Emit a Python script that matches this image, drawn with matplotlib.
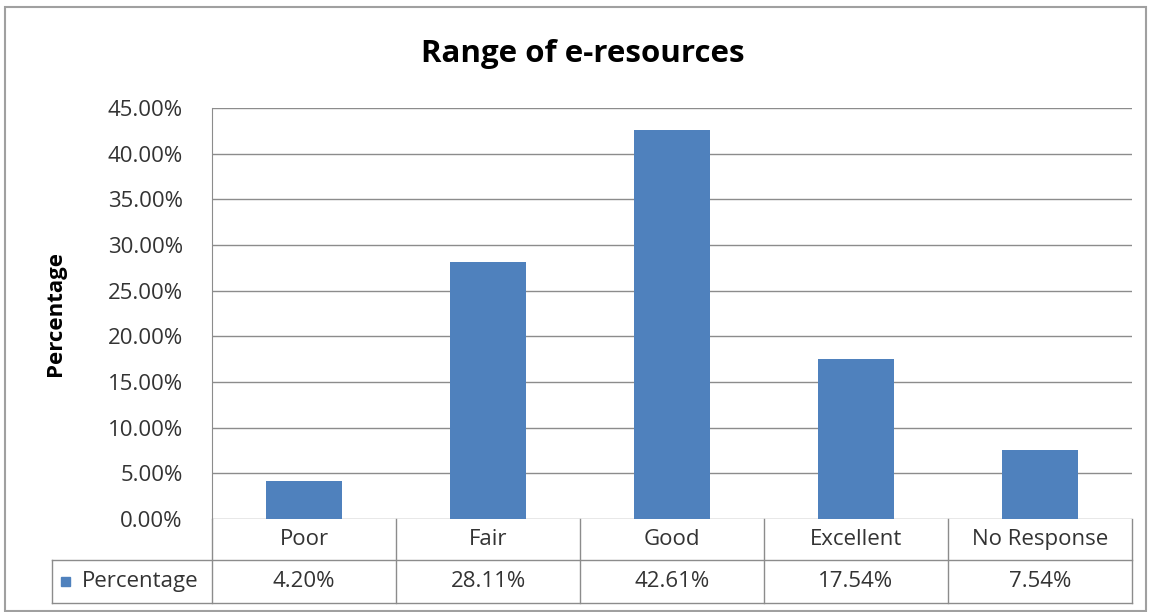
import matplotlib

matplotlib.use("Agg")
import matplotlib.pyplot as plt  # noqa: E402
from matplotlib.patches import Rectangle  # noqa: E402
from matplotlib.lines import Line2D  # noqa: E402
import numpy as np  # noqa: E402

categories = ["Poor", "Fair", "Good", "Excellent", "No Response"]
values = [4.20, 28.11, 42.61, 17.54, 7.54]
series_name = "Percentage"
title = "Range of e-resources"

BAR = "#4f81bd"
GRID = "#8c8c8c"
TXT = "#333333"
FONT = "Open Sans"
FS = 16

W, H = 1150, 612
fig = plt.figure(figsize=(W / 100, H / 100), dpi=100)


# pixel helpers (origin top-left, like the reference image)
def fx(px):
    return px / W


def fy(py):
    return 1 - py / H


x0, x1, y_top, y_bot = 212, 1132, 108, 519
ax = fig.add_axes([fx(x0), fy(y_bot), fx(x1) - fx(x0), fy(y_top) - fy(y_bot)])
x = np.arange(len(categories))
ax.bar(x, values, width=0.41, color=BAR, zorder=3)
ax.set_xlim(-0.5, len(categories) - 0.5)
ax.set_ylim(0, 45)
ticks = np.arange(0, 46, 5)
ax.set_yticks(ticks)
ax.set_yticklabels([f"{v:.2f}%" for v in ticks], fontsize=FS, family=FONT, color=TXT)
ax.set_xticks([])
ax.tick_params(axis="y", length=0, pad=21)
ax.grid(axis="y", color=GRID, linewidth=1, zorder=0)
for s in ("top", "right", "bottom"):
    ax.spines[s].set_visible(False)
ax.spines["left"].set_color(GRID)

fig.text(fx(56), fy(314), "Percentage", rotation=90, ha="center", va="center",
         fontsize=16, fontweight="bold", family=FONT)
fig.text(fx(583), fy(54), title, ha="center", va="center", fontsize=22.5, fontweight="bold", family=FONT)

# data table under the plot
row1, row2, row3 = 519, 560, 603
cw = (x1 - x0) / len(categories)
tl = dict(color=GRID, linewidth=1, transform=fig.transFigure)
fig.add_artist(Line2D([fx(x0), fx(x0)], [fy(row1), fy(row3)], **tl))
fig.add_artist(Line2D([fx(52), fx(x1)], [fy(row2), fy(row2)], **tl))
fig.add_artist(Line2D([fx(52), fx(x1)], [fy(row3), fy(row3)], **tl))
fig.add_artist(Line2D([fx(52), fx(52)], [fy(row2), fy(row3)], **tl))
for i, (cat, v) in enumerate(zip(categories, values)):
    xr = x0 + cw * (i + 1)
    fig.add_artist(Line2D([fx(xr), fx(xr)], [fy(row1), fy(row3)], **tl))
    xc = x0 + cw * (i + 0.5)
    fig.text(fx(xc), fy((row1 + row2) / 2), cat, ha="center", va="center", fontsize=FS, family=FONT, color=TXT)
    fig.text(fx(xc), fy((row2 + row3) / 2), f"{v:.2f}%", ha="center", va="center", fontsize=FS, family=FONT, color=TXT)
fig.add_artist(Rectangle((fx(61), fy(586)), fx(9), fy(577) - fy(586), color=BAR, transform=fig.transFigure))
fig.text(fx(82), fy((row2 + row3) / 2), series_name, ha="left", va="center", fontsize=FS, family=FONT, color=TXT)

# outer frame
fig.add_artist(Rectangle((fx(5), fy(611)), fx(1141), fy(7) - fy(611), fill=False,
                         edgecolor="#a0a0a0", linewidth=1.5, transform=fig.transFigure))

fig.savefig("out.png", dpi=100)
